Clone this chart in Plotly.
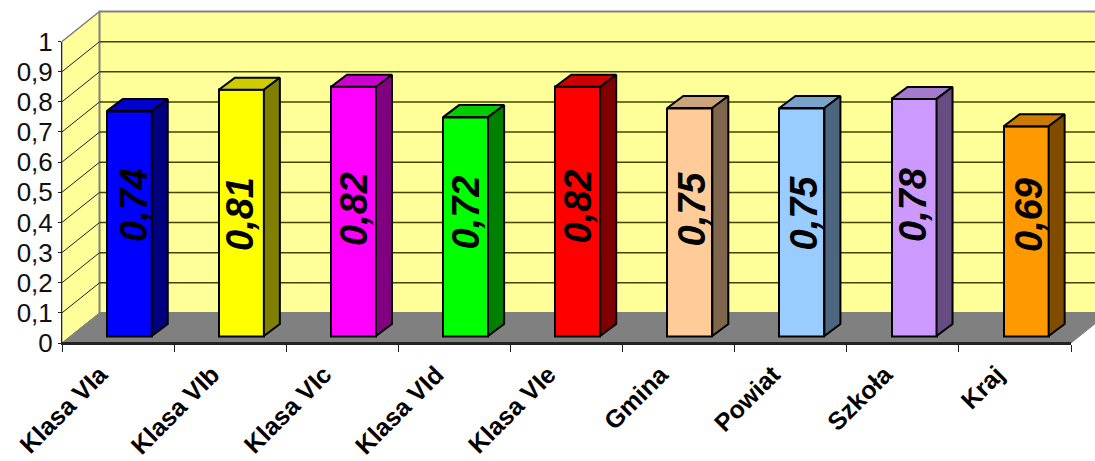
import plotly.graph_objects as go

categories = ["Klasa VIa", "Klasa VIb", "Klasa VIc", "Klasa VId", "Klasa VIe", "Gmina", "Powiat", "Szkoła", "Kraj"]
values = [0.74, 0.81, 0.82, 0.72, 0.82, 0.75, 0.75, 0.78, 0.69]
value_labels = ["0,74", "0,81", "0,82", "0,72", "0,82", "0,75", "0,75", "0,78", "0,69"]
colors = ["#0000FF", "#FFFF00", "#FF00FF", "#00FF00", "#FF0000", "#FFCC99", "#99CCFF", "#CC99FF", "#FF9900"]
y_ticks = [0, 0.1, 0.2, 0.3, 0.4, 0.5, 0.6, 0.7, 0.8, 0.9, 1]
y_ticktext = ["0", "0,1", "0,2", "0,3", "0,4", "0,5", "0,6", "0,7", "0,8", "0,9", "1"]

# label centres, in pixels
label_px_x = [134, 240, 354, 466, 577.5, 691.5, 803.5, 913.5, 1029]
label_px_y = [205, 214, 209, 212.5, 207, 209, 213, 204.5, 215]

W, H = 1095, 461
FX0, FX1, FY0, FY1 = 62, 1071, 343, 41.5   # front plane
DX, DY = 37.5, 30                          # wall depth
CAT = (FX1 - FX0) / 9
BAR_BASE_PX, BAR_SCALE = 336, 304
BAR_W = 45 / CAT
BAR_SHIFT = 11.2 / CAT
SIDE_X, SIDE_Y = 16 / CAT, 12 / BAR_SCALE
FONT = "Liberation Sans, Arial, sans-serif"


def shade(hex_color, f):
    r, g, b = (int(hex_color[i:i + 2], 16) for i in (1, 3, 5))
    return f"rgb({round(r * f)},{round(g * f)},{round(b * f)})"


def poly(points, **kw):
    path = "M" + " L".join(f"{x / W:.5f},{1 - y / H:.5f}" for x, y in points) + " Z"
    return dict(type="path", xref="paper", yref="paper", path=path, layer="below", **kw)


def seg(x0, y0, x1, y1, color, width):
    return dict(type="line", xref="paper", yref="paper", layer="below",
                x0=x0 / W, y0=1 - y0 / H, x1=x1 / W, y1=1 - y1 / H,
                line=dict(color=color, width=width))


shapes = [
    poly([(FX0, FY0), (FX0, FY1), (FX0 + DX, FY1 - DY), (FX0 + DX, FY0 - DY)],
         fillcolor="#FFFF99", line=dict(color="#808080", width=1)),
    poly([(FX0 + DX, FY0 - DY), (FX0 + DX, FY1 - DY), (FX1 + DX, FY1 - DY), (FX1 + DX, FY0 - DY)],
         fillcolor="#FFFF99", line=dict(color="#808080", width=2)),
    poly([(FX0, FY0), (FX0 + DX, FY0 - DY), (FX1 + DX, FY0 - DY), (FX1, FY0)],
         fillcolor="#808080", line=dict(color="#808080", width=1)),
]
for t in y_ticks[1:-1]:
    y = FY0 + (FY1 - FY0) * t
    shapes.append(seg(FX0, y, FX0 + DX, y - DY, "#222222", 1))
    shapes.append(seg(FX0 + DX, y - DY, FX1 + DX, y - DY, "#444400", 1.5))
shapes.append(seg(FX0, FY1, FX0 + DX, FY1 - DY, "#808080", 1.5))

fig = go.Figure()
# front baseline: also keeps the visible value axis in play
fig.add_trace(go.Scatter(x=[0, 9], y=[0, 0], mode="lines", line=dict(color="#222222", width=2),
                         cliponaxis=False, showlegend=False, hoverinfo="skip"))
centres = [i + 0.5 + BAR_SHIFT for i in range(len(values))]
fig.add_trace(go.Bar(x=centres, y=values, width=BAR_W, yaxis="y2", cliponaxis=False,
                     marker=dict(color=colors, line=dict(color="black", width=2)),
                     showlegend=False, hoverinfo="skip"))

for c, v, col in zip(centres, values, colors):
    l, r = c - BAR_W / 2, c + BAR_W / 2
    fig.add_trace(go.Scatter(x=[l, r, r + SIDE_X, l + SIDE_X, l], y=[v, v, v + SIDE_Y, v + SIDE_Y, v],
                             yaxis="y2", mode="lines", fill="toself", fillcolor=shade(col, 0.8),
                             line=dict(color="black", width=2), cliponaxis=False,
                             showlegend=False, hoverinfo="skip"))
    fig.add_trace(go.Scatter(x=[r, r + SIDE_X, r + SIDE_X, r, r], y=[0, SIDE_Y, v + SIDE_Y, v, 0],
                             yaxis="y2", mode="lines", fill="toself", fillcolor=shade(col, 0.5),
                             line=dict(color="black", width=2), cliponaxis=False,
                             showlegend=False, hoverinfo="skip"))

annotations = [
    dict(x=(px - FX0) / CAT, y=(BAR_BASE_PX - py) / BAR_SCALE, xref="x", yref="y2", text=txt,
         showarrow=False, textangle=-90, xanchor="center", yanchor="middle",
         font=dict(family=FONT, size=38, color="black", weight="bold", style="italic"))
    for px, py, txt in zip(label_px_x, label_px_y, value_labels)
]

fig.update_layout(
    width=W, height=H, margin=dict(l=0, r=0, t=0, b=0, pad=0),
    paper_bgcolor="white", plot_bgcolor="rgba(0,0,0,0)", showlegend=False, bargap=0,
    shapes=shapes, annotations=annotations,
    xaxis=dict(domain=[FX0 / W, FX1 / W], range=[0, 9], tickmode="array", automargin=False,
               tickvals=[i + 0.34 for i in range(9)], ticktext=categories, tickangle=-45,
               ticks="", showgrid=False, zeroline=False, showline=True, linecolor="#222222", linewidth=2,
               tickfont=dict(family=FONT, size=25, color="black", weight="bold"),
               ticklabelstandoff=5,
               minor=dict(tickmode="linear", tick0=0, dtick=1, ticks="outside", ticklen=7,
                          tickcolor="#222222", tickwidth=1, showgrid=False)),
    yaxis=dict(domain=[1 - FY0 / H, 1 - FY1 / H], range=[0, 1], tickmode="array", automargin=False,
               tickvals=y_ticks, ticktext=y_ticktext, ticks="outside", ticklen=3, tickcolor="#222222",
               showgrid=False, zeroline=False, showline=True, linecolor="#222222", linewidth=1,
               tickfont=dict(family=FONT, size=26, color="#111111")),
    yaxis2=dict(domain=[1 - FY0 / H, 1 - FY1 / H], overlaying="y", visible=False, automargin=False,
                range=[(BAR_BASE_PX - FY0) / BAR_SCALE, (BAR_BASE_PX - FY1) / BAR_SCALE]),
)

fig.write_html("out.html", config={"displayModeBar": False},
               post_script="document.body.style.margin='0';document.body.style.overflow='hidden';")
